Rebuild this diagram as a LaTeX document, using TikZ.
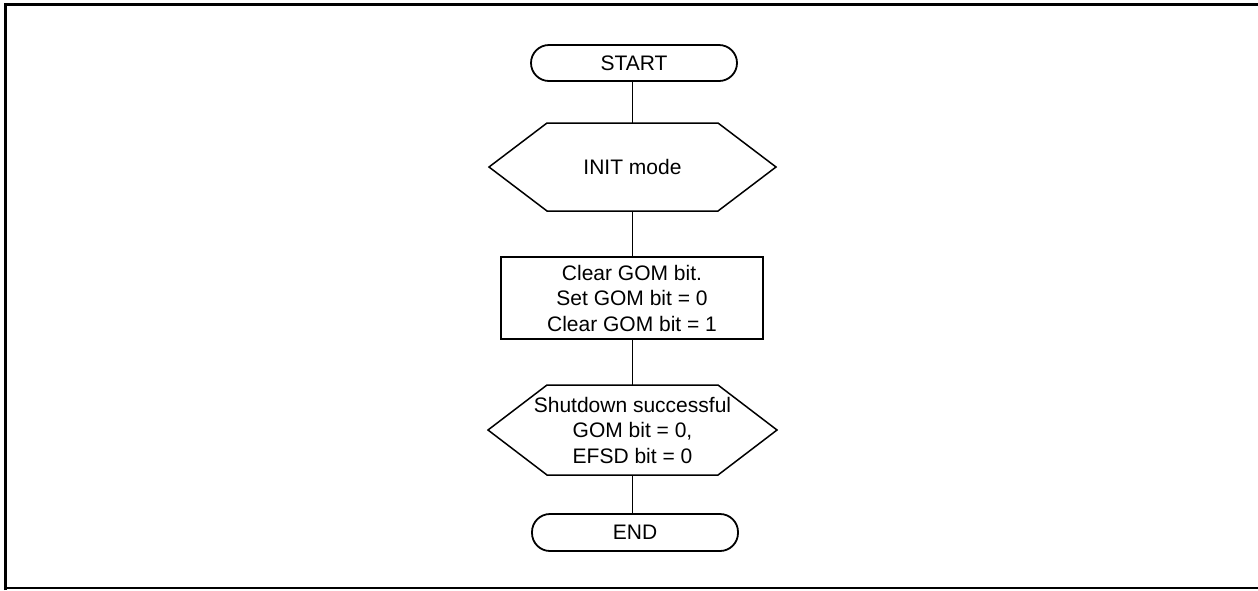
\documentclass[tikz,border=0pt]{standalone}
\usepackage{fontspec}
\setmainfont{Liberation Sans}
\begin{document}
\begin{tikzpicture}[x=1pt,y=-1pt,
  font=\fontsize{21}{25.5}\selectfont,
  term/.style={draw, line width=1.8pt, rounded corners=18pt, minimum width=206pt, minimum height=36pt, inner sep=0pt},
  hexnode/.style={inner sep=0pt, align=center},
  hexline/.style={line width=1.5pt, line join=miter},
  procbox/.style={draw, line width=1.8pt, minimum width=262pt, minimum height=82pt, inner sep=0pt, align=center},
  link/.style={line width=1pt},
  frame/.style={line width=3pt}
]
\useasboundingbox (0,0) rectangle (1258,590);
% frame
\draw[frame] (5.5,590) -- (5.5,4.5) -- (1258,4.5);
\draw[line width=1.2pt] (4,588) -- (1258,588);

\node[term] (start) at (634,63) {START};
\node[hexnode] (init) at (632.5,167) {INIT mode};
\draw[hexline] ([shift={(-85.5,-44)}]init.center) -- ([shift={(85.5,-44)}]init.center) -- ([shift={(143.5,0)}]init.center) -- ([shift={(85.5,44)}]init.center) -- ([shift={(-85.5,44)}]init.center) -- ([shift={(-143.5,0)}]init.center) -- cycle;
\coordinate (initN) at ([shift={(0,-44)}]init.center);
\coordinate (initS) at ([shift={(0,44)}]init.center);
\node[procbox] (clr) at (632,298) {Clear GOM bit.\\Set GOM bit = 0\\Clear GOM bit = 1};
\node[hexnode] (chk) at (632.5,430) {Shutdown successful\\GOM bit = 0,\\EFSD bit = 0};
\draw[hexline] ([shift={(-85.5,-45)}]chk.center) -- ([shift={(85.5,-45)}]chk.center) -- ([shift={(144.5,0)}]chk.center) -- ([shift={(85.5,45)}]chk.center) -- ([shift={(-85.5,45)}]chk.center) -- ([shift={(-144.5,0)}]chk.center) -- cycle;
\coordinate (chkN) at ([shift={(0,-45)}]chk.center);
\coordinate (chkS) at ([shift={(0,45)}]chk.center);
\node[term, minimum height=37pt] (stop) at (635,532.5) {END};

\draw[link] (632,0 |- start.south) -- (632,0 |- initN);
\draw[link] (632,0 |- initS) -- (632,0 |- clr.north);
\draw[link] (632,0 |- clr.south) -- (632,0 |- chkN);
\draw[link] (632,0 |- chkS) -- (632,0 |- stop.north);
\end{tikzpicture}
\end{document}
